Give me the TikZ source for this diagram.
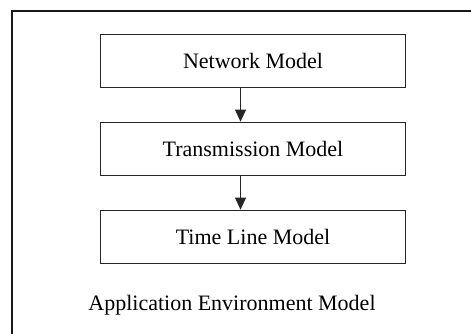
\documentclass[tikz,border=0pt]{standalone}
\usepackage{fontspec}
\setmainfont{Liberation Serif}
\usetikzlibrary{arrows.meta}
\begin{document}
\begin{tikzpicture}[x=1pt,y=-1pt,
  modelbox/.style={draw=black!85, line width=1.2pt, minimum width=305pt, minimum height=53.5pt, inner sep=0pt, font=\fontsize{22}{26}\selectfont},
  flow/.style={draw=black!85, line width=1pt, -{Triangle[width=11pt,length=12pt]}},
  frame/.style={draw=black!90, line width=2pt}]
\useasboundingbox (0,0) rectangle (471,334);
\coordinate (ftop) at (471,11);
\coordinate (fcorner) at (12,11);
\coordinate (fbot) at (12,334);
\draw[frame] (ftop) -- (fcorner) -- (fbot);
\node[modelbox] (net) at (253,61) {Network Model};
\node[modelbox] (trans) at (253,149) {Transmission Model};
\node[modelbox] (time) at (253,237) {Time Line Model};
\draw[flow] (net.south -| 240.5,0) -- (trans.north -| 240.5,0);
\draw[flow] (trans.south -| 240.5,0) -- (time.north -| 240.5,0);
\node[font=\fontsize{22}{26}\selectfont] (app) at (232,305) {Application Environment Model};
\end{tikzpicture}
\end{document}
